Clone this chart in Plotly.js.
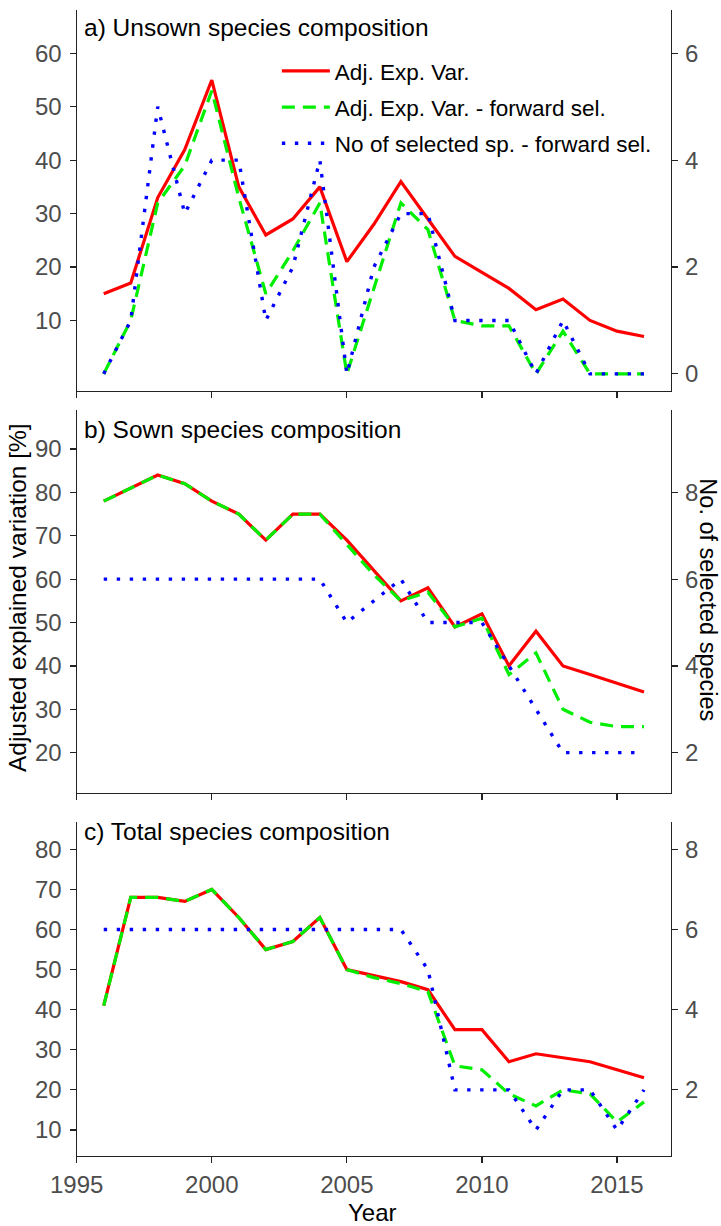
<!DOCTYPE html>
<html>
<head>
<meta charset="utf-8">
<script src="https://cdn.plot.ly/plotly-3.0.1.min.js"></script>
<style>
  html, body { margin: 0; padding: 0; background: #ffffff; }
  #chart { width: 721px; height: 1226px; }
</style>
</head>
<body>
<div id="chart"></div>
<script>
// Years of the survey
const years = [1996, 1997, 1998, 1999, 2000, 2001, 2002, 2003, 2004, 2005, 2006,
               2007, 2008, 2009, 2010, 2011, 2012, 2013, 2014, 2015, 2016];

// a) Unsown species composition
const unsownAdjVar = [15, 17, 33, 42, 55, 35, 26, 29, 35, 21, 28, 36, 29, 22, 19, 16, 12, 14, 10, 8, 7];
const unsownFwdVar = [0, 10, 32, 39, 53, 33, 15, 23, 32, 0, 16, 32, 27, 10, 9, 9, 0, 8, 0, 0, 0];
const unsownNoSp   = [0, 1, 5, 3, 4, 4, 1, 2, 4, 0, 2, 3, 3, 1, 1, 1, 0, 1, 0, 0, 0];

// b) Sown species composition
const sownAdjVar = [78, 81, 84, 82, 78, 75, 69, 75, 75, 69, 62, 55, 58, 49, 52, 40, 48, 40, 38, 36, 34];
const sownFwdVar = [78, 81, 84, 82, 78, 75, 69, 75, 75, 68, 61, 55, 57, 49, 51, 38, 43, 30, 27, 26, 26];
const sownNoSp   = [6, 6, 6, 6, 6, 6, 6, 6, 6, 5, 5.5, 6, 5, 5, 5, 4, 3, 2, 2, 2, 2];

// c) Total species composition
const totalAdjVar = [41, 68, 68, 67, 70, 63, 55, 57, 63, 50, 48.5, 47, 45, 35, 35, 27, 29, 28, 27, 25, 23];
const totalFwdVar = [41, 68, 68, 67, 70, 63, 55, 57, 63, 50, 48, 46.5, 44.5, 26, 25, 19, 16, 20, 19, 12, 17];
const totalNoSp   = [6, 6, 6, 6, 6, 6, 6, 6, 6, 6, 6, 6, 5, 2, 2, 2, 1, 2, 2, 1, 2];

// Labels
const seriesNames = ['Adj. Exp. Var.', 'Adj. Exp. Var. - forward sel.', 'No of selected sp. - forward sel.'];
const panelTitles = ['a) Unsown species composition', 'b) Sown species composition', 'c) Total species composition'];
const xTicks = [1995, 2000, 2005, 2010, 2015];
const leftTicks = [[10, 20, 30, 40, 50, 60], [20, 30, 40, 50, 60, 70, 80, 90], [10, 20, 30, 40, 50, 60, 70, 80]];
const rightTicks = [[0, 2, 4, 6], [2, 4, 6, 8], [2, 4, 6, 8]];

const FONT = 'Liberation Sans, Arial, sans-serif';
const TICK_GREY = '#4d4d4d';
const RED = '#ff0000', GREEN = '#00ee00', BLUE = '#0000ff';

const panels = [
  { adj: unsownAdjVar, fwd: unsownFwdVar, sp: unsownNoSp, dom: [0.6811, 0.9918], yr: [-3.2, 68.1] },
  { adj: sownAdjVar,   fwd: sownFwdVar,   sp: sownNoSp,   dom: [0.3532, 0.6652], yr: [10.7, 98.9] },
  { adj: totalAdjVar,  fwd: totalFwdVar,  sp: totalNoSp,  dom: [0.0571, 0.3298], yr: [3.5, 86.9] }
];

const traces = [];
const layout = {
  width: 721, height: 1226,
  margin: { l: 0, r: 0, t: 0, b: 0 },
  paper_bgcolor: '#ffffff', plot_bgcolor: '#ffffff',
  font: { family: FONT, color: '#000000', size: 22 },
  showlegend: true,
  legend: {
    x: 0.384, y: 0.9595, xanchor: 'left', yanchor: 'top',
    bgcolor: 'rgba(0,0,0,0)', borderwidth: 0,
    font: { family: FONT, size: 22.5, color: '#000000' },
    itemwidth: 48, tracegroupgap: 4, traceorder: 'grouped'
  },
  annotations: [],
  hovermode: false
};

panels.forEach((p, i) => {
  const xa = i === 0 ? 'x' : 'x' + (i + 1);
  const yl = i === 0 ? 'y' : 'y' + (2 * i + 1);
  const yr = 'y' + (2 * i + 2);
  const first = i === 0;

  traces.push({
    x: years, y: p.adj, xaxis: xa, yaxis: yl, type: 'scatter', mode: 'lines',
    name: seriesNames[0], legendgroup: 'g1', showlegend: first,
    line: { color: RED, width: 3.2 }
  });
  traces.push({
    x: years, y: p.fwd, xaxis: xa, yaxis: yl, type: 'scatter', mode: 'lines',
    name: seriesNames[1], legendgroup: 'g2', showlegend: first,
    line: { color: GREEN, width: 3.2, dash: '13px,8px' }
  });
  traces.push({
    x: years, y: p.sp, xaxis: xa, yaxis: yr, type: 'scatter', mode: 'lines',
    name: seriesNames[2], legendgroup: 'g3', showlegend: first,
    line: { color: BLUE, width: 3.4, dash: '3.4px,9.6px' }
  });

  const axisCommon = {
    showline: true, linecolor: '#222222', linewidth: 1.2,
    ticks: 'outside', ticklen: 6, tickwidth: 1.2, tickcolor: '#222222',
    showgrid: false, zeroline: false,
    tickfont: { family: FONT, size: 24, color: TICK_GREY }
  };

  layout[i === 0 ? 'xaxis' : 'xaxis' + (i + 1)] = Object.assign({}, axisCommon, {
    domain: [0.1064, 0.9307], range: [1995, 2017], anchor: yl,
    tickmode: 'array', tickvals: xTicks, ticktext: xTicks.map(String),
    showticklabels: i === 2, ticklabelstandoff: 1
  });
  layout[i === 0 ? 'yaxis' : 'yaxis' + (2 * i + 1)] = Object.assign({}, axisCommon, {
    domain: p.dom, range: p.yr, anchor: xa, side: 'left',
    tickmode: 'array', tickvals: leftTicks[i], ticktext: leftTicks[i].map(String),
    ticklabelstandoff: 3
  });
  layout['yaxis' + (2 * i + 2)] = Object.assign({}, axisCommon, {
    domain: p.dom, range: [p.yr[0] / 10, p.yr[1] / 10], anchor: xa, side: 'right',
    overlaying: yl,
    tickmode: 'array', tickvals: rightTicks[i], ticktext: rightTicks[i].map(String),
    ticklabelstandoff: 2
  });

  layout.annotations.push({
    text: panelTitles[i], xref: 'paper', yref: 'paper',
    x: 0.1137, y: [0.9772, 0.6493, 0.3214][i], xanchor: 'left', yanchor: 'middle',
    showarrow: false, font: { family: FONT, size: 24.5, color: '#000000' }
  });
});

// Axis titles
layout.annotations.push({
  text: 'Adjusted explained variation [%]', xref: 'paper', yref: 'paper',
  x: 0.0236, y: 0.5122, xanchor: 'center', yanchor: 'middle', textangle: -90,
  showarrow: false, font: { family: FONT, size: 24.5, color: '#000000' }
});
layout.annotations.push({
  text: 'No. of selected species', xref: 'paper', yref: 'paper',
  x: 0.9815, y: 0.5106, xanchor: 'center', yanchor: 'middle', textangle: 90,
  showarrow: false, font: { family: FONT, size: 23.5, color: '#000000' }
});
layout.annotations.push({
  text: 'Year', xref: 'paper', yref: 'paper',
  x: 0.5173, y: 0.0114, xanchor: 'center', yanchor: 'middle',
  showarrow: false, font: { family: FONT, size: 24, color: '#000000' }
});

Plotly.newPlot('chart', traces, layout, { displayModeBar: false, staticPlot: true });
</script>
</body>
</html>
